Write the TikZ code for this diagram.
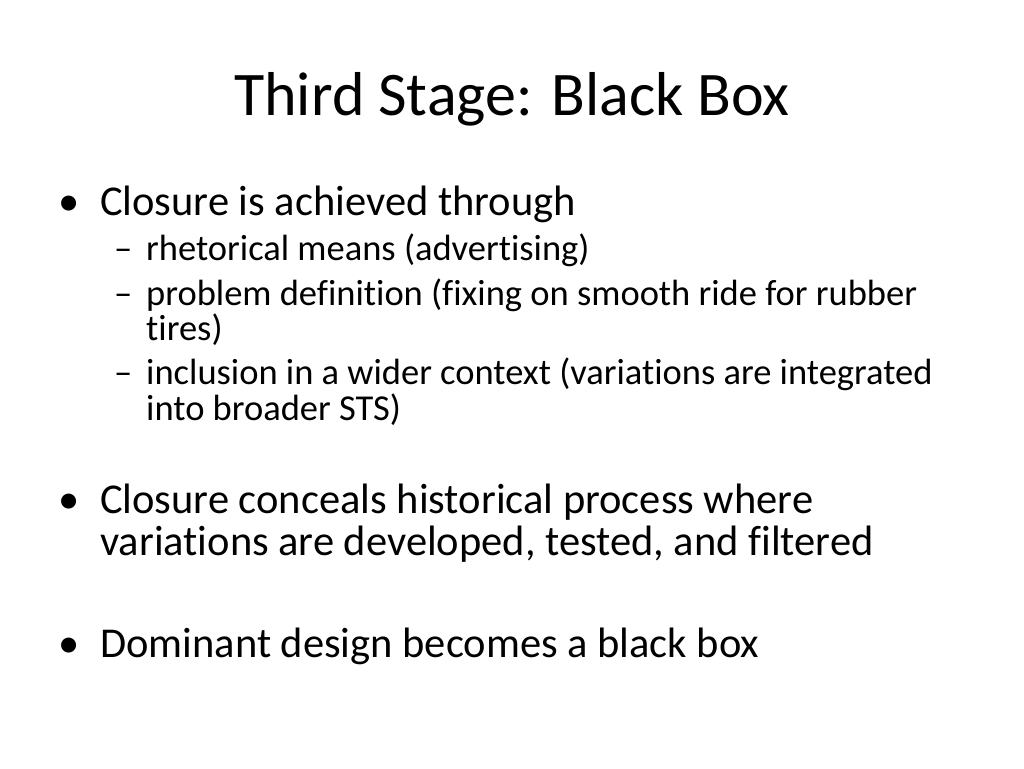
\documentclass[tikz,border=0pt]{standalone}
\usepackage{fontspec}
\setmainfont[RawFeature={-liga;-clig}]{Carlito}
\begin{document}
\begin{tikzpicture}[x=1pt,y=-1pt,
 ttl/.style={anchor=base,inner sep=0,font=\fontsize{62}{64}\selectfont},
 lone/.style={anchor=base west,inner sep=0,font=\fontsize{42.5}{46}\selectfont},
 ltwo/.style={anchor=base west,inner sep=0,font=\fontsize{36.5}{40}\selectfont}]
\useasboundingbox (0,0) rectangle (1024,768);
\node[ttl] (title) at (512,115) {Third Stage: Black Box};
\node[lone] (b1) at (58,215) {•};
\node[lone] (t1) at (100,215) {Closure is achieved through};
\node[ltwo] (d1) at (114,260) {–};
\node[ltwo] (s1) at (146,260) {rhetorical means (advertising)};
\node[ltwo] (d2) at (114,305) {–};
\node[ltwo] (s2) at (146,305) {problem definition (fixing on smooth ride for rubber};
\node[ltwo] (s2b) at (146,340) {tires)};
\node[ltwo] (d3) at (114,384) {–};
\node[ltwo] (s3) at (146,384) {inclusion in a wider context (variations are integrated};
\node[ltwo] (s3b) at (146,420) {into broader STS)};
\node[lone] (b2) at (58,513) {•};
\node[lone] (t2) at (100,513) {Closure conceals historical process where};
\node[lone] (t2b) at (100,555) {variations are developed, tested, and filtered};
\node[lone] (b3) at (58,657) {•};
\node[lone] (t3) at (100,657) {Dominant design becomes a black box};
\end{tikzpicture}
\end{document}
